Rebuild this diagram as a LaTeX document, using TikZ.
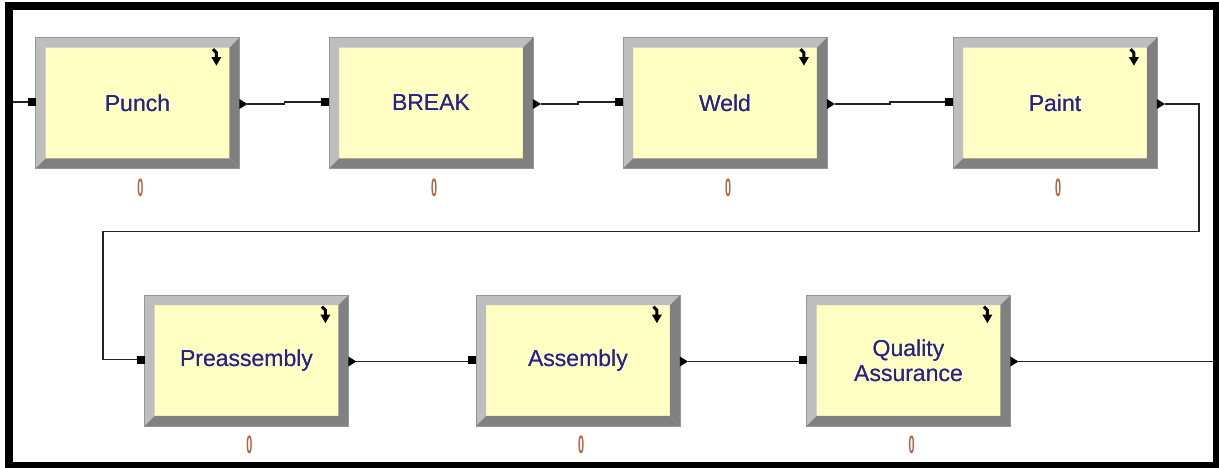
\documentclass[tikz,border=0pt]{standalone}
\usepackage{fontspec}
\setmainfont{Liberation Sans}
\usetikzlibrary{calc}

\definecolor{boxfill}{RGB}{255,255,196}
\definecolor{bevlight}{RGB}{190,190,190}
\definecolor{bevdark}{RGB}{128,128,128}
\definecolor{boxedge}{RGB}{150,150,150}
\definecolor{labelblue}{RGB}{40,35,140}
\definecolor{countcol}{RGB}{185,95,60}
\definecolor{wire}{RGB}{35,35,35}

\tikzset{
  procbox/.style={rectangle, draw=boxedge, fill=boxfill, line width=0.8pt,
    minimum width=203pt, minimum height=130pt, inner sep=0pt,
    text=labelblue, align=center, font=\fontsize{23}{25}\selectfont},
  modlabel/.style={text=labelblue, inner sep=0pt, align=center,
    font=\fontsize{23}{25}\selectfont},
  counter/.style={text=countcol, inner sep=0pt,
    font=\fontsize{24}{24}\selectfont\bfseries},
  conn/.style={draw=wire, line width=1.5pt},
  frameline/.style={draw=black, line width=8pt},
}

% bevelled module frame and connection points of a module
\newcommand\modulefx[1]{%
  \fill[bevlight] (#1.north west) -- (#1.north east) -- ([shift={(-10,10)}]#1.north east) -- ([shift={(10,10)}]#1.north west) -- cycle;
  \fill[bevlight] (#1.north west) -- (#1.south west) -- ([shift={(10,-10)}]#1.south west) -- ([shift={(10,10)}]#1.north west) -- cycle;
  \fill[bevdark] (#1.south west) -- (#1.south east) -- ([shift={(-10,-10)}]#1.south east) -- ([shift={(10,-10)}]#1.south west) -- cycle;
  \fill[bevdark] (#1.north east) -- (#1.south east) -- ([shift={(-10,-10)}]#1.south east) -- ([shift={(-10,10)}]#1.north east) -- cycle;
  \draw[boxedge, line width=0.8pt] (#1.north west) rectangle (#1.south east);
  \coordinate (#1-in) at ([shift={(-8,-1)}]#1.west);
  \coordinate (#1-out) at ([shift={(8,1)}]#1.east);
}
% entry square and exit triangle of a module
\newcommand\moduleports[1]{%
  \fill[black] ([shift={(-8,-5)}]#1.west) rectangle ([shift={(0,3)}]#1.west);
  \fill[black] ([shift={(0,-4)}]#1.east) -- ([shift={(8,1)}]#1.east) -- ([shift={(0,6)}]#1.east) -- cycle;
}
% small curled arrow in the upper right corner
\newcommand\moduleicon[1]{%
  \draw[black, line width=3pt] ([shift={(-26.5,11.5)}]#1.north east) -- ([shift={(-23,15)}]#1.north east) -- ([shift={(-23,21)}]#1.north east);
  \fill[black] ([shift={(-28,19.5)}]#1.north east) -- ([shift={(-18,19.5)}]#1.north east) -- ([shift={(-23,28)}]#1.north east) -- cycle;
}

\begin{document}
\begin{tikzpicture}[x=1pt, y=-1pt]
\useasboundingbox (0,0) rectangle (1219,467);
\fill[white] (0,0) rectangle (1219,467);

% first row
\node[procbox] (punch) at (137.5,103) {Punch};
\node[procbox] (brk)   at (431,103)   {BREAK};
\node[procbox] (weld)  at (725,103)   {Weld};
\node[procbox] (paint) at (1055,103)  {Paint};
% second row
\node[procbox] (pre)   at (246.5,360.5) {Preassembly};
\node[procbox] (asm)   at (578,360.5)   {Assembly};
\node[procbox] (qa)    at (908.5,360.5) {Quality\\Assurance};

\foreach \m in {punch,brk,weld,paint,pre,asm,qa} {\modulefx{\m}}
\foreach \m in {punch,weld,paint,pre,asm,qa} {\moduleicon{\m}}

% labels printed again above the bevels
\foreach \m/\t in {punch/Punch,brk/BREAK,weld/Weld,paint/Paint,pre/Preassembly,asm/Assembly}
  {\node[modlabel] at (\m) {\t};}
\node[modlabel] at (qa) {Quality\\Assurance};

% counters
\foreach \m in {punch,brk,weld,paint,pre,asm,qa}
  {\node[counter] (\m-cnt) at ([shift={(3,19)}]\m.south) {\scalebox{0.45}[1.05]{0}};}

% connectors
\coordinate (src) at (9,102);
\coordinate (r1) at (1199,231.5);
\coordinate (l1) at (103,231.5);
\coordinate (sink) at (1217,361.5);

\draw[conn] (src) -- (punch-in);
\foreach \a/\b in {punch/brk,brk/weld,weld/paint}
  {\draw[conn] (\a-out) -| ($(\a-out)!0.5!(\b-in)$) |- (\b-in);}
\foreach \a/\b in {pre/asm,asm/qa}
  {\draw[conn] (\a-out) -- (\a-out -| \b-in);}
\draw[conn] (paint-out) -| (r1) -- (l1) |- (pre-in);
\draw[conn] (qa-out) -- (sink);

\foreach \m in {punch,brk,weld,paint,pre,asm,qa} {\moduleports{\m}}

% outer frame
\draw[frameline] (9,6) rectangle (1217,466);
\end{tikzpicture}
\end{document}
